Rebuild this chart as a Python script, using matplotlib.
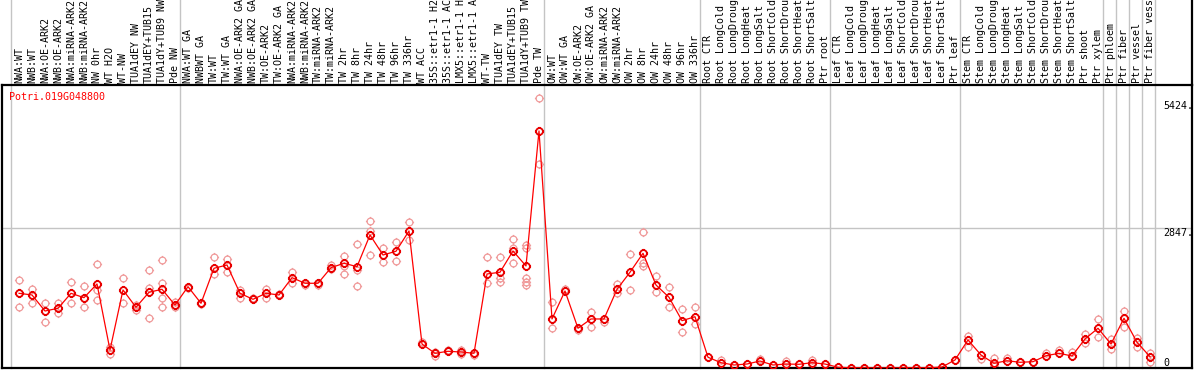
import matplotlib
matplotlib.use("Agg")
import matplotlib.pyplot as plt
import matplotlib.transforms as mtransforms
from matplotlib.path import Path

# Sample names (as printed, cut to 14 characters)
LABELS = [
    "NWA:WT", "NWB:WT", "NWA:OE-ARK2", "NWB:OE-ARK2", "NWA:miRNA-ARK2", "NWB:miRNA-ARK2",
    "NW 0hr", "WT H2O", "WT-NW", "TUA1dEY NW", "TUA1dEY+TUB15", "TUA1dY+TUB9 NW", "Pde NW",
    "NWA:WT GA", "NWBWT GA", "TW:WT", "TW:WT GA", "NWA:OE-ARK2 GA", "NWB:OE-ARK2 GA",
    "TW:OE-ARK2", "TW:OE-ARK2 GA", "NWA:miRNA-ARK2", "NWB:miRNA-ARK2", "TW:miRNA-ARK2",
    "TW:miRNA-ARK2", "TW 2hr", "TW 8hr", "TW 24hr", "TW 48hr", "TW 96hr", "TW 336hr",
    "WT ACC", "35S::etr1-1 H2", "35S::etr1-1 AC", "LMX5::etr1-1 H", "LMX5::etr1-1 A",
    "WT-TW", "TUA1dEY TW", "TUA1dEY+TUB15", "TUA1dY+TUB9 TW", "Pde TW",
    "OW:WT", "OW:WT GA", "OW:OE-ARK2", "OW:OE-ARK2 GA", "OW:miRNA-ARK2", "OW:miRNA-ARK2",
    "OW 2hr", "OW 8hr", "OW 24hr", "OW 48hr", "OW 96hr", "OW 336hr",
    "Root CTR", "Root LongCold", "Root LongDroug", "Root LongHeat", "Root LongSalt",
    "Root ShortCold", "Root ShortDrou", "Root ShortHeat", "Root ShortSalt", "Ptr root",
    "Leaf CTR", "Leaf LongCold", "Leaf LongDroug", "Leaf LongHeat", "Leaf LongSalt",
    "Leaf ShortCold", "Leaf ShortDrou", "Leaf ShortHeat", "Leaf ShortSalt", "Ptr leaf",
    "Stem CTR", "Stem LongCold", "Stem LongDroug", "Stem LongHeat", "Stem LongSalt",
    "Stem ShortCold", "Stem ShortDrou", "Stem ShortHeat", "Stem ShortSalt", "Ptr shoot",
    "Ptr xylem", "Ptr phloem", "Ptr fiber", "Ptr vessel", "Ptr fiber vess",
]

# Mean expression per sample
MEAN = [
    1519, 1485, 1159, 1214, 1519, 1430, 1709, 366, 1587, 1235, 1540, 1601, 1281,
    1654, 1316, 2028, 2095, 1519, 1397, 1519, 1485, 1837, 1723, 1723, 2040, 2130,
    2061, 2705, 2298, 2374, 2787, 488, 299, 340, 325, 299, 1912, 1947, 2380, 2075,
    4821,
    997, 1566, 808, 997, 997, 1601, 1947, 2333, 1688, 1438, 962, 1043,
    218, 108, 61, 81, 142, 61, 81, 75, 108, 81,
    15, 5, 5, 2, 2, 5, 5, 5, 20, 163,
    570, 264, 96, 148, 116, 128, 250, 299, 244, 590,
    808, 488, 1011, 523, 230,
]

# Replicate values per sample
REPS = [
    [1790, 1525, 1235], [1607, 1316], [1328, 930], [1316, 1113], [1743, 1316],
    [1674, 1235], [2109, 1587, 1383], [433, 285], [1825, 1316], [1180, 1281],
    [1987, 1633, 1011], [2191, 1723, 1418, 1247], [1349, 1247],
    [1621], [1328, 1302], [2252, 1912], [2211, 1959], [1587, 1418], [1424],
    [1607, 1418], [1505], [1959, 1723], [1688], [1688], [2095, 2008],
    [2278, 1912, 2075], [2522, 1993, 1668], [2990, 2793, 2298], [2435, 2150],
    [2569, 2182], [2970, 2604], [535], [332, 244], [366], [366, 285], [264],
    [2252, 1723], [2252, 1825, 1755], [2618, 2130, 2435],
    [2502, 2435, 1825, 1755, 1688], [5486, 4149],
    [1349, 808], [1601], [773], [1145, 840], [942], [1709, 1519], [2319, 1587],
    [2772, 2130, 2075], [1871, 1552], [1654, 1235], [1194, 738], [1235, 889],
    [218], [163], [61], [81], [177], [61], [148], [75], [163, 61], [81],
    [15], [5], [5], [2], [2], [5], [5], [5], [20], [163],
    [651, 421], [177], [197, 47], [210], [116], [128], [299], [366], [332],
    [685, 502], [997, 624], [584, 380], [1159, 840], [616, 421], [311, 116],
]

# group separators (after these sample indices) and right axis ticks
GROUP_ENDS = [-1, 12, 40, 52, 62, 72, 83, 84, 85, 86, 87]
YTICKS = [5424, 2847, 0]
GENE = "Potri.019G048800"

W, H = 1194, 370
left_px, right_px, top_px, bot_px = 1.5, 1191.5, 85, 368
step, x0 = 13.0, 19.0
ymax = (bot_px - top_px) * 2847 / 140.0

fig = plt.figure(figsize=(W / 100, H / 100), dpi=100)
ax = fig.add_axes([left_px / W, (H - bot_px) / H,
                   (right_px - left_px) / W, (bot_px - top_px) / H])
ax.set_xlim((left_px - x0) / step, (right_px - x0) / step)
ax.set_ylim(0, ymax)
ax.set_xticks([])
ax.set_yticks([])
for s in ax.spines.values():
    s.set_color("black")
    s.set_linewidth(1.6)

mono = "DejaVu Sans Mono"
grey = "#c4c4c4"
over = 1 + (top_px) / (bot_px - top_px)

ax.axhline(2847, color=grey, lw=1, zorder=1)
for g in GROUP_ENDS:
    b = g + 0.38 if g >= 0 else -0.65
    ax.axvline(b, ymin=0, ymax=over, color=grey, lw=1, clip_on=False, zorder=1)

# sun-like marker: circle with four short ticks
circ = Path.unit_circle()
tk = 1.35
verts = list(circ.vertices) + [(1, 0), (tk, 0), (-1, 0), (-tk, 0),
                               (0, 1), (0, tk), (0, -1), (0, -tk)]
codes = list(circ.codes) + [Path.MOVETO, Path.LINETO] * 4
sun = Path(verts, codes)

xs = list(range(len(MEAN)))
rx = [i for i, r in enumerate(REPS) for _ in r]
ry = [v for r in REPS for v in r]

ax.plot(rx, ry, linestyle="none", marker=sun, ms=6.6, mfc="none",
        mec="#f09a9a", mew=0.9, zorder=2)
ax.plot(xs, MEAN, color="#ff0000", lw=0.9, zorder=3)
ax.plot(xs, MEAN, linestyle="none", marker=sun, ms=6.6, mfc="none",
        mec="#e80000", mew=1.3, zorder=4)

lab_tr = mtransforms.blended_transform_factory(ax.transData, ax.transAxes)
for i, name in enumerate(LABELS):
    ax.text(i, 1 + 2 / (bot_px - top_px), name, transform=lab_tr, rotation=90,
            ha="center", va="bottom", fontsize=7.2, family=mono, clip_on=False)

tick_tr = mtransforms.blended_transform_factory(ax.transAxes, ax.transData)
for v in YTICKS:
    ax.text((1163 - left_px) / (right_px - left_px), v,
            "0" if v == 0 else "%d." % v, transform=tick_tr,
            ha="left", va="bottom" if v == 0 else "top",
            fontsize=7.2, family=mono)

ax.text((9 - left_px) / (right_px - left_px), (bot_px - 97) / (bot_px - top_px),
        GENE, transform=ax.transAxes, color="red", ha="left", va="center",
        fontsize=7.2, family=mono)

# right border runs up through the label strip
ax.plot([1, 1], [1, over], transform=ax.transAxes, color="black", lw=1.6,
        clip_on=False)

fig.savefig("out.png", dpi=100)
